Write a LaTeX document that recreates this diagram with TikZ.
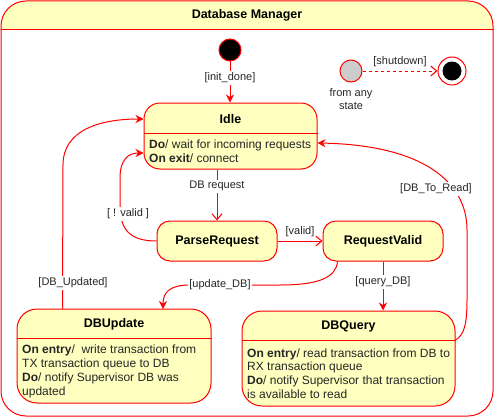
\documentclass[tikz,border=0pt]{standalone}
\usepackage{fontspec}
\setmainfont{Liberation Sans}
\usetikzlibrary{arrows.meta}
\definecolor{sred}{HTML}{FF0000}
\definecolor{syel}{HTML}{FFFFC0}
\definecolor{sgray}{HTML}{CCCCCC}
\begin{document}
\begin{tikzpicture}[x=1pt,y=-1pt,
  txt/.style={font=\fontsize{12}{13.8}\selectfont, inner sep=0pt, text=black!85},
  stxt/.style={font=\fontsize{11}{13}\selectfont, inner sep=0pt, text=black!85},
  ttl/.style={font=\bfseries\fontsize{12.5}{14}\selectfont, inner sep=0pt},
  statebox/.style={draw=sred, fill=syel, line width=1pt, inner sep=0pt},
  conn/.style={draw=sred, line width=1pt},
  fl/.style={conn, -{Stealth[length=8pt,width=8pt]}},
  op/.style={conn, -{Straight Barb[length=6pt,width=10pt]}},
  lbl/.style={stxt, fill=white, inner sep=1.5pt},
  dot/.style={circle, inner sep=0pt, line width=1pt}]
\useasboundingbox (0,0) rectangle (495,420);
% container
\path[fill=syel] (1,30) {[rounded corners=25pt] -- (1,1) -- (493,1)} -- (493,30) -- cycle;
\node[draw=sred, line width=1pt, rounded corners=25pt, minimum width=492pt, minimum height=415pt, inner sep=0pt] (dm) at (247,208.5) {};
\draw[sred, line width=1pt] (dm.west |- 0,30) -- (dm.east |- 0,30);
\node[ttl] (dmt) at (247,15) {Database Manager};
% initial / final
\node[dot, fill=black, draw=sred, minimum size=22pt] (init) at (230,50) {};
\node[dot, fill=sgray, draw=sred, minimum size=22pt] (any) at (351,71) {};
\node[stxt, align=center] (anyt) at (351,99.5) {from any\\state};
\node[dot, draw=sred, fill=white, minimum size=28pt] (fin) at (452,71) {};
\node[dot, fill=black, minimum size=19pt] (fini) at (fin) {};
% states
\node[statebox, rounded corners=16pt, minimum width=173pt, minimum height=66pt] (idle) at (230.5,136) {};
\draw[sred, line width=1pt] (idle.west |- 0,133) -- (idle.east |- 0,133);
\node[ttl] (idlet) at (230.5,119) {Idle};
\node[txt, align=left, anchor=west] (idleb) at (149,151) {\textbf{Do}/ wait for incoming requests\\\textbf{On exit}/ connect};

\node[statebox, rounded corners=13pt, minimum width=120pt, minimum height=40pt, ttl] (parse) at (217,241) {ParseRequest};
\node[statebox, rounded corners=13pt, minimum width=120pt, minimum height=40pt, ttl] (reqv) at (383,241) {RequestValid};

\node[statebox, rounded corners=20pt, minimum width=194pt, minimum height=94pt] (dbu) at (114,356) {};
\draw[sred, line width=1pt] (dbu.west |- 0,338) -- (dbu.east |- 0,338);
\node[ttl] (dbut) at (114,324) {DBUpdate};
\node[txt, align=left, anchor=west] (dbub) at (22,371.5) {\textbf{On entry}/\ \ write transaction from\\TX transaction queue to DB\\\textbf{Do}/ notify Supervisor DB was\\updated};

\node[statebox, rounded corners=20pt, minimum width=213pt, minimum height=95pt] (dbq) at (348.5,358.5) {};
\draw[sred, line width=1pt] (dbq.west |- 0,340) -- (dbq.east |- 0,340);
\node[ttl] (dbqt) at (348.5,326) {DBQuery};
\node[txt, align=left, anchor=west] (dbqb) at (247,373.5) {\textbf{On entry}/ read transaction from DB to\\RX transaction queue\\\textbf{Do}/ notify Supervisor that transaction\\is available to read};
% connectors
\draw[fl] (init) -- (init |- idle.north) node[lbl, pos=0.4] {[init\_done]};
\draw[op, dashed] (any) -- (fin) node[stxt, midway, above=4pt] {[shutdown]};
\draw[op] (idle.south -| parse.north) -- (parse.north) node[lbl, pos=0.33] {DB request};
\draw[op] (parse) -- (reqv) node[stxt, midway, above=4pt] {[valid]};
\draw[fl] (parse.west) .. controls (128,241) and (120,228) .. (120,205) -- (120,178) .. controls (120,160) and (128,153) .. (idle.west |- 0,153);
\node[lbl] (nv) at (128,214) {[ ! valid ]};
\draw[fl] (reqv.south west) ++(15,0) .. controls (336,277) and (320,285) .. (280,285) -- (190,285) .. controls (170,285) and (163,292) .. (163,309);
\node[lbl] (ud) at (220,285) {[update\_DB]};
\draw[fl] (reqv.south) -- (reqv.south |- dbq.north) node[lbl, pos=0.42] {[query\_DB]};
\draw[fl] (dbu.north west) ++(46,0) -- (63,165) .. controls (63,130) and (100,119) .. (idle.west |- 0,119);
\node[lbl] (dbud) at (73,283) {[DB\_Updated]};
\draw[fl] (dbq.east |- 0,340) .. controls (464,335) and (467,325) .. (467,300) -- (467,230) .. controls (467,180) and (420,145) .. (idle.east |- 0,143);
\node[lbl] (dbtr) at (436,189) {[DB\_To\_Read]};
\end{tikzpicture}
\end{document}
